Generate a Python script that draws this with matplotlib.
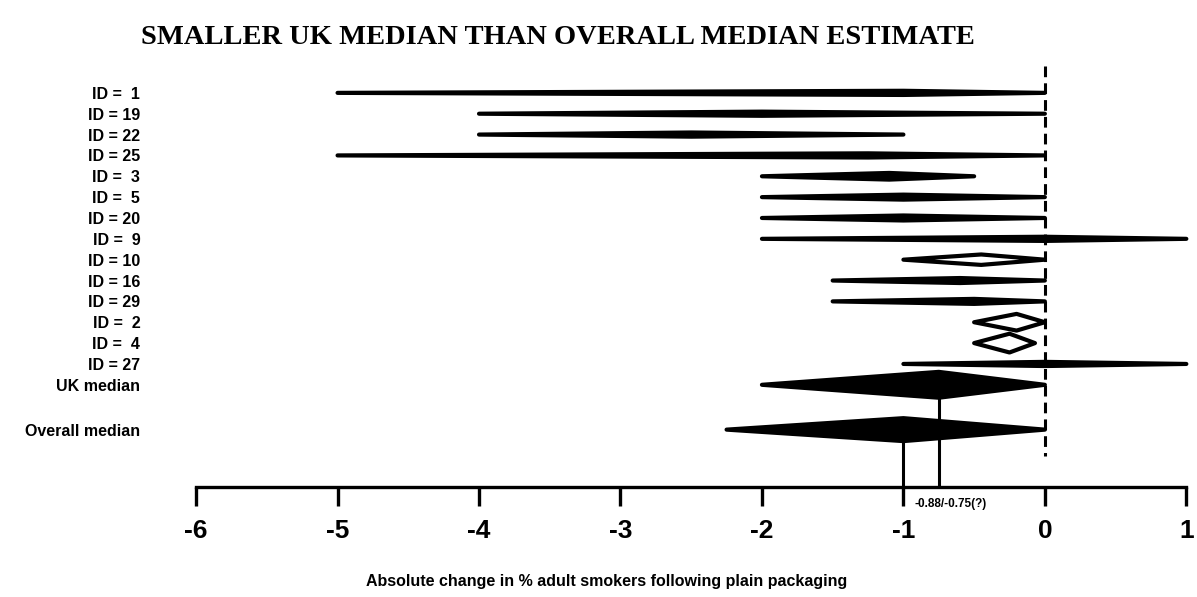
import matplotlib.pyplot as plt
from matplotlib.patches import Polygon

# Study rows: label, lower bound, median, upper bound
labels = ["ID =  1", "ID = 19", "ID = 22", "ID = 25", "ID =  3", "ID =  5",
          "ID = 20", "ID =  9", "ID = 10", "ID = 16", "ID = 29", "ID =  2",
          "ID =  4", "ID = 27", "UK median", "Overall median"]
lows = [-5, -4, -4, -5, -2, -2, -2, -2, -1, -1.5, -1.5, -0.5, -0.5, -1, -2, -2.25]
medians = [-1, -2, -2.5, -1.25, -1.1, -1, -1, 0, -0.45, -0.6, -0.5, -0.2, -0.25, 0, -0.75, -1]
highs = [0, 0, -1, 0, -0.5, 0, 0, 1, 0, 0, 0, 0, -0.07, 1, 0, 0]
row_pos = [0, 1, 2, 3, 4, 5, 6, 7, 8, 9, 10, 11, 12, 13, 14, 16.15]
half_h = [0.1, 0.1, 0.1, 0.1, 0.16, 0.12, 0.12, 0.1, 0.25, 0.12, 0.12, 0.4, 0.45, 0.1, 0.62, 0.55]
filled = [True] * 8 + [False, True, True, False, False, True, True, True]

xticks = [-6, -5, -4, -3, -2, -1, 0, 1]
uk_med = -0.75
overall_med = -1
note = "-0.88/-0.75(?)"

sans = ["Liberation Sans", "DejaVu Sans"]

fig = plt.figure(figsize=(11.97, 5.97), dpi=100)
ax = fig.add_axes([0.152, 0.1843, 0.845, 0.73])

for y, lo, md, hi, h, f in zip(row_pos, lows, medians, highs, half_h, filled):
    pts = [(lo, y), (md, y - h), (hi, y), (md, y + h)]
    ax.add_patch(Polygon(pts, closed=True, facecolor="black" if f else "none",
                         edgecolor="black", linewidth=3, joinstyle="round"))

# dashed reference line at zero
ax.plot([0, 0], [-1.3, 17.4], color="black", linewidth=2.2, linestyle=(0, (3.5, 2)))

# drop lines from the two medians down to the axis
ax.plot([uk_med, uk_med], [row_pos[14] + half_h[14], 18.9], color="black", linewidth=2.2)
ax.plot([overall_med, overall_med], [row_pos[15] + half_h[15], 18.9], color="black", linewidth=2.2)

ax.text(-0.92, 19.7, note, fontsize=8.5, fontweight="bold", family=sans,
        ha="left", va="center", clip_on=False)

ax.set_xlim(-6.1, 1.05)
ax.set_ylim(18.9, -2.0)

for side in ["top", "right", "left"]:
    ax.spines[side].set_visible(False)
ax.spines["bottom"].set_linewidth(2.4)
ax.spines["bottom"].set_bounds(-6, 1)

ax.set_xticks(xticks)
ax.set_xticklabels([str(t) for t in xticks], fontsize=19, fontweight="bold", family=sans)
ax.tick_params(axis="x", length=14, width=2.4, pad=9)

ax.set_yticks(row_pos)
ax.set_yticklabels(labels, fontsize=11.5, fontweight="bold", family=sans)
ax.tick_params(axis="y", length=0, pad=30)

ax.set_xlabel("Absolute change in % adult smokers following plain packaging",
              fontsize=11.5, fontweight="bold", family=sans)
ax.xaxis.set_label_coords(0.42, -0.2)

fig.text(0.466, 0.938, "SMALLER UK MEDIAN THAN OVERALL MEDIAN ESTIMATE",
         fontsize=20.5, fontweight="bold", family=["Liberation Serif", "DejaVu Serif"],
         ha="center", va="center")

fig.savefig("out.png", dpi=100)
